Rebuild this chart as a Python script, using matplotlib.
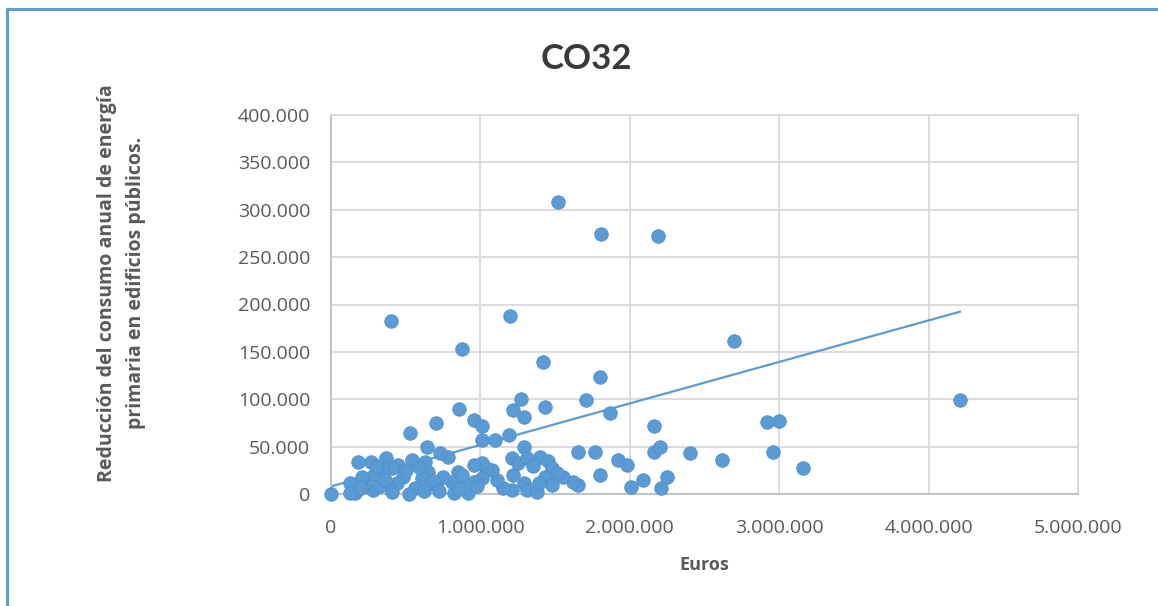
import matplotlib
matplotlib.use("Agg")
import matplotlib.pyplot as plt
from matplotlib.ticker import FuncFormatter
from matplotlib.lines import Line2D

# inversion (euros) vs reduccion consumo energia primaria
euros = [0.40e6, 1.20e6, 0.88e6, 1.42e6, 1.80e6, 1.52e6, 1.81e6, 2.19e6, 2.70e6, 4.21e6,
         2.92e6, 3.00e6, 2.96e6, 3.16e6, 2.62e6, 2.40e6, 2.16e6, 2.16e6, 2.20e6, 2.25e6,
         2.21e6, 2.01e6, 2.09e6, 1.92e6, 1.98e6, 1.80e6, 1.77e6, 1.65e6, 1.65e6, 1.62e6,
         1.55e6, 1.87e6, 1.71e6, 1.43e6, 1.27e6, 1.22e6, 1.29e6, 0.86e6, 0.96e6, 1.01e6,
         0.70e6, 0.53e6, 0.64e6, 1.01e6, 1.10e6, 1.19e6, 1.29e6, 1.21e6, 1.25e6, 1.31e6,
         1.40e6, 1.45e6, 1.48e6, 1.51e6, 1.43e6, 1.48e6, 1.29e6, 1.31e6, 1.38e6, 1.39e6,
         1.21e6, 1.15e6, 1.11e6, 1.08e6, 1.04e6, 1.01e6, 1.01e6, 0.96e6, 0.96e6, 0.92e6,
         0.90e6, 0.85e6, 0.82e6, 0.81e6, 0.78e6, 0.73e6, 0.75e6, 0.70e6, 0.65e6, 0.63e6,
         0.61e6, 0.56e6, 0.54e6, 0.52e6, 0.48e6, 0.45e6, 0.44e6, 0.41e6, 0.41e6, 0.37e6,
         0.34e6, 0.29e6, 0.28e6, 0.27e6, 0.23e6, 0.21e6, 0.18e6, 0.16e6, 0.13e6, 0.13e6,
         0.0, 0.31e6, 0.50e6, 0.59e6, 0.68e6, 0.88e6, 0.98e6, 0.33e6, 0.62e6, 0.72e6,
         0.86e6, 0.20e6, 0.36e6, 1.22e6, 1.35e6]
reduccion = [183e3, 188e3, 153e3, 139e3, 124e3, 308e3, 274e3, 272e3, 161e3, 99e3,
             76e3, 77e3, 44e3, 27e3, 36e3, 43e3, 72e3, 44e3, 50e3, 18e3,
             6e3, 7e3, 15e3, 36e3, 31e3, 20e3, 44e3, 44e3, 9e3, 13e3,
             18e3, 85e3, 99e3, 92e3, 100e3, 89e3, 81e3, 90e3, 78e3, 72e3,
             75e3, 64e3, 50e3, 57e3, 57e3, 62e3, 50e3, 38e3, 33e3, 38e3,
             39e3, 35e3, 27e3, 22e3, 18e3, 9e3, 12e3, 4e3, 2e3, 12e3,
             4e3, 6e3, 15e3, 25e3, 27e3, 33e3, 17e3, 31e3, 13e3, 1e3,
             7e3, 23e3, 1e3, 13e3, 39e3, 43e3, 18e3, 9e3, 23e3, 34e3,
             17e3, 6e3, 36e3, 0, 18e3, 31e3, 12e3, 27e3, 2e3, 38e3,
             27e3, 20e3, 4e3, 34e3, 12e3, 18e3, 34e3, 1e3, 12e3, 1e3,
             0, 30e3, 25e3, 28e3, 14e3, 20e3, 8e3, 8e3, 3e3, 3e3,
             5e3, 6e3, 15e3, 20e3, 30e3]

# linea de tendencia (lineal)
trend_x = [0, 4.21e6]
trend_intercept = 8000
trend_slope = 0.0438

xticks = [0, 1e6, 2e6, 3e6, 4e6, 5e6]
yticks = [0, 50e3, 100e3, 150e3, 200e3, 250e3, 300e3, 350e3, 400e3]

blue = '#5B9BD5'
txt = '#595959'
plt.rcParams['font.family'] = ['Open Sans', 'DejaVu Sans']

def miles(v, pos):
    return f"{int(round(v)):,}".replace(",", ".")

fig = plt.figure(figsize=(11.58, 6.06), dpi=100)
ax = fig.add_axes([331/1158, 1 - 494/606, (1078-331)/1158, (494-115)/606])

ax.plot(trend_x, [trend_intercept + trend_slope*x for x in trend_x], color=blue, lw=1.6, zorder=2)
ax.scatter(euros, reduccion, s=95, color=blue, edgecolors='#4E8FCC', linewidths=0.6, zorder=3, clip_on=False)

ax.set_xlim(0, 5e6)
ax.set_ylim(0, 400e3)
ax.set_xticks(xticks)
ax.set_yticks(yticks)
ax.xaxis.set_major_formatter(FuncFormatter(miles))
ax.yaxis.set_major_formatter(FuncFormatter(miles))
ax.grid(True, color='#D9D9D9', lw=1.3)
ax.set_axisbelow(True)
ax.tick_params(length=0, labelsize=14, colors=txt)
ax.tick_params(axis='x', pad=18)
ax.tick_params(axis='y', pad=15)
for s in ['top', 'right']:
    ax.spines[s].set_color('#D9D9D9')
    ax.spines[s].set_linewidth(1.3)
for s in ['left', 'bottom']:
    ax.spines[s].set_color('#BFC3CC')
    ax.spines[s].set_linewidth(1.5)

ax.set_xlabel('Euros', fontsize=13, fontweight='bold', color=txt, labelpad=14)
fig.text(122/1158, 1 - 283/606, 'Reducción del consumo anual de energía\nprimaria en edificios públicos.',
         rotation=90, ha='center', va='center', fontsize=14, fontweight='bold', color=txt,
         linespacing=1.6)
fig.text(586/1158, 1 - 59/606, 'CO32', ha='center', va='center', fontsize=25,
         fontweight='bold', color='#3A3A3A', family=['Lato', 'DejaVu Sans'])

# marco del grafico
fig.add_artist(Line2D([7/1158, 7/1158, 1], [0, 1 - 9/606, 1 - 9/606], color=blue, lw=2.2,
                      transform=fig.transFigure))

fig.savefig('out.png', dpi=100)
